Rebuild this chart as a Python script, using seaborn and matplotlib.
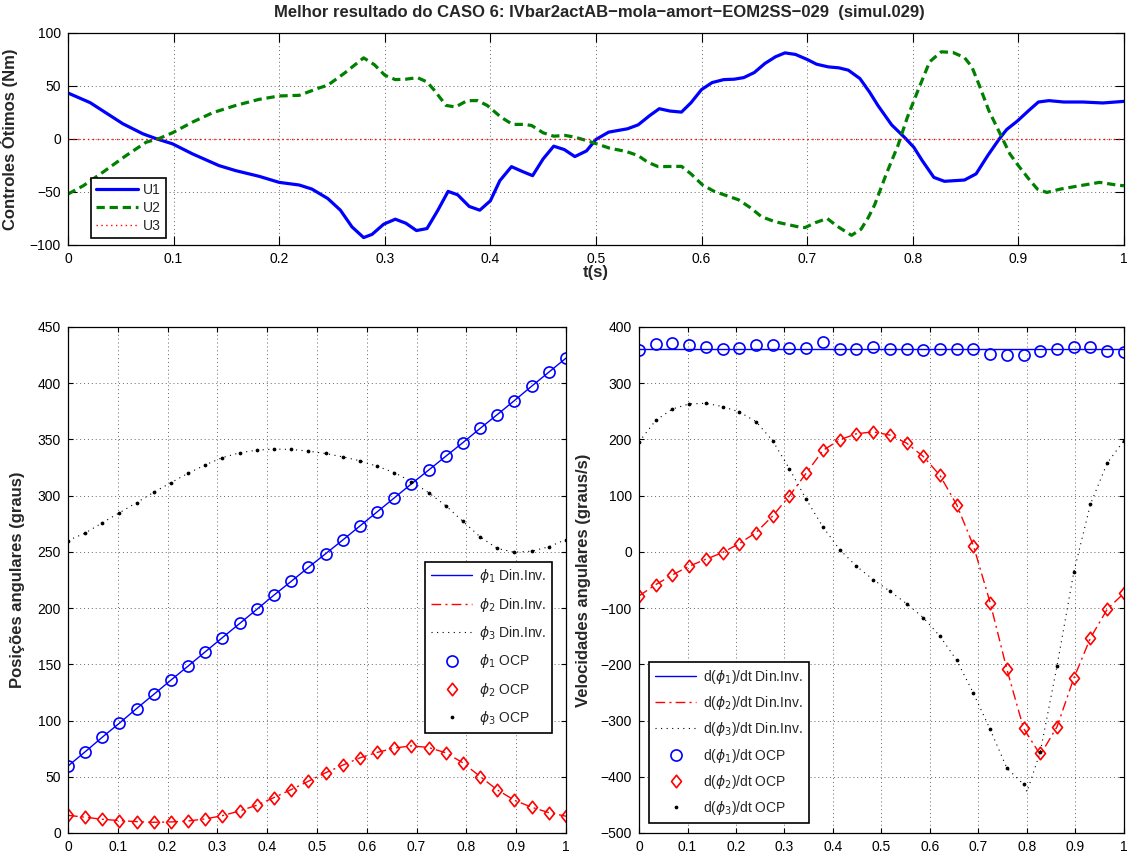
"""
plot.py - Melhor resultado do CASO 6 (simul.029): controles otimos,
posicoes angulares e velocidades angulares.
"""
import matplotlib
matplotlib.use("Agg")  # no display
import matplotlib.pyplot as plt
import seaborn as sns
from matplotlib.path import Path
from matplotlib.ticker import FixedLocator, FuncFormatter


# ---------------------------------------------------------------------------
# Data
# ---------------------------------------------------------------------------

# Optimal controls (Nm)
T_U1 = [0.0, 0.021, 0.052, 0.071, 0.084, 0.099, 0.118, 0.143, 0.159, 0.181, 0.2,
        0.219, 0.231, 0.246, 0.258, 0.269, 0.28, 0.288, 0.299, 0.31, 0.32, 0.33,
        0.34, 0.35, 0.36, 0.369, 0.38, 0.39, 0.4, 0.409, 0.42, 0.43, 0.44, 0.45,
        0.46, 0.47, 0.48, 0.491, 0.5, 0.512, 0.53, 0.54, 0.551, 0.56, 0.57, 0.581,
        0.59, 0.6, 0.61, 0.621, 0.631, 0.64, 0.65, 0.66, 0.67, 0.679, 0.689, 0.7,
        0.709, 0.72, 0.73, 0.739, 0.75, 0.759, 0.767, 0.78, 0.792, 0.801, 0.809,
        0.82, 0.83, 0.849, 0.86, 0.871, 0.882, 0.889, 0.899, 0.91, 0.919, 0.929,
        0.943, 0.961, 0.98, 1.0]
U1 = [43.2, 34.1, 14.2, 4.7, 0.0, -4.7, -14.2, -25.2, -30.0, -35.3, -41.0,
      -43.5, -47.3, -56.2, -67.2, -83.0, -93.0, -90.0, -80.4, -75.7, -79.5, -86.4,
      -84.5, -67.8, -49.5, -52.7, -63.7, -67.2, -58.4, -39.4, -26.2, -30.6, -34.7,
      -18.9, -6.9, -10.1, -16.7, -11.4, -0.6, 6.3, 9.5, 13.2, 22.0, 28.4, 26.2,
      25.2, 34.0, 46.4, 53.0, 55.8, 56.2, 57.7, 62.5, 71.0, 77.3, 81.0, 79.5,
      74.8, 70.3, 67.8, 66.9, 64.7, 56.8, 44.2, 31.5, 13.2, 1.6, -7.9, -20.5,
      -36.3, -40.0, -38.8, -33.0, -15.8, 0.0, 8.8, 16.7, 26.8, 34.7, 36.0,
      34.7, 34.7, 33.8, 35.3]

T_U2 = [0.0, 0.0145, 0.033, 0.055, 0.074, 0.087, 0.099, 0.118, 0.137, 0.159, 0.181,
        0.2, 0.219, 0.238, 0.246, 0.262, 0.28, 0.29, 0.3, 0.31, 0.32, 0.331, 0.34,
        0.347, 0.358, 0.367, 0.378, 0.388, 0.397, 0.41, 0.421, 0.432, 0.439, 0.45,
        0.46, 0.471, 0.48, 0.491, 0.5006, 0.513, 0.529, 0.54, 0.549, 0.559, 0.581,
        0.59, 0.601, 0.612, 0.626, 0.635, 0.646, 0.657, 0.67, 0.692, 0.698, 0.708,
        0.719, 0.728, 0.742, 0.751, 0.758, 0.764, 0.775, 0.786, 0.795, 0.805,
        0.816, 0.827, 0.838, 0.849, 0.856, 0.863, 0.872, 0.882, 0.892, 0.9, 0.91,
        0.918, 0.927, 0.94, 0.958, 0.977, 0.993, 1.0]
U2 = [-52.0, -44.2, -31.5, -15.8, -3.2, 0.6, 5.7, 15.8, 24.6, 31.5, 37.2,
      40.4, 41.0, 48.0, 50.5, 62.0, 76.3, 70.0, 60.0, 55.8, 56.2, 57.7, 53.6,
      45.7, 31.5, 30.0, 36.0, 36.0, 31.5, 20.5, 13.6, 13.6, 12.6, 5.7,
      2.5, 3.2, 1.6, -1.6, -4.7, -8.8, -12.0, -15.8, -22.0, -26.2, -25.9,
      -33.0, -43.5, -49.5, -54.3, -57.4, -64.7, -73.5, -78.2, -83.0, -83.6, -78.9,
      -75.0, -82.0, -90.9, -85.2, -74.0, -62.0, -33.0, -6.3, 20.5, 45.7,
      72.6, 82.0, 81.4, 76.6, 67.8, 50.5, 26.8, 6.3, -14.2, -25.2, -37.9,
      -47.3, -50.5, -47.3, -44.2, -41.0, -43.5, -44.2]

T_U3 = [0.0, 1.0]
U3 = [0.0, 0.0]

# OCP sample instants (s)
T_OCP = [0.0, 0.0345, 0.069, 0.1034, 0.1379, 0.1724, 0.2069, 0.2414, 0.2759,
         0.3103, 0.3448, 0.3793, 0.4138, 0.4483, 0.4828, 0.5172, 0.5517, 0.5862,
         0.6207, 0.6552, 0.6897, 0.7241, 0.7586, 0.7931, 0.8276, 0.8621, 0.8966,
         0.931, 0.9655, 1.0]

# Angular positions (graus)
PHI1 = [59.5, 72.2, 85.2, 97.7, 110.7, 123.3, 136.0, 148.5, 161.2, 173.8,
        186.3, 198.9, 211.6, 223.8, 236.2, 248.3, 260.5, 273.0, 285.5, 298.0,
        310.5, 322.7, 335.0, 347.2, 359.8, 372.1, 384.6, 397.3, 409.8, 422.3]
PHI2 = [15.7, 14.0, 12.2, 11.0, 10.1, 9.5, 9.8, 10.7, 12.5, 15.4,
        19.6, 24.7, 31.5, 38.6, 46.0, 53.5, 60.3, 66.8, 71.6, 75.5,
        77.5, 76.0, 71.3, 62.4, 50.2, 38.3, 29.1, 22.9, 18.1, 14.9]
PHI3 = [260.1, 266.7, 275.9, 284.8, 293.8, 303.0, 311.6, 319.9, 327.4, 333.9,
        338.1, 340.5, 341.4, 341.1, 339.6, 337.5, 334.5, 331.0, 326.2, 320.5,
        312.5, 302.7, 291.1, 277.1, 263.4, 253.0, 249.7, 250.6, 254.5, 261.0]

# Angular velocities (graus/s) - OCP markers
DPHI1_OCP = [359.7, 370.4, 371.0, 368.6, 365.0, 361.5, 362.0, 368.6, 368.0, 362.7,
             362.0, 372.7, 360.3, 361.0, 363.9, 361.5, 361.5, 359.0, 361.5, 361.0,
             361.0, 352.0, 350.2, 350.8, 357.3, 361.5, 364.4, 364.4, 356.7, 356.1]
DPHI2_OCP = [-78.3, -58.2, -40.9, -25.5, -13.1, -1.2, 14.8, 34.4, 64.1, 99.7,
             140.0, 180.4, 199.4, 210.0, 213.6, 207.7, 193.5, 169.7, 135.9, 83.7,
             10.7, -90.2, -208.9, -313.9, -358.5, -311.0, -224.9, -153.1, -102.1, -73.6]
DPHI3_OCP = [195.6, 234.0, 254.2, 263.1, 264.3, 258.4, 248.9, 231.7, 197.3, 147.6,
             93.6, 44.4, 4.1, -25.5, -49.2, -70.0, -92.0, -116.9, -150.1, -192.9,
             -251.6, -315.7, -384.6, -413.6, -355.5, -202.4, -36.2, 84.9, 157.9, 198.0]

# Angular velocities (graus/s) - inverse dynamics curves
T_DIN1 = [0.0, 1.0]
DPHI1_DIN = [360.0, 360.0]
T_DIN2 = T_OCP
DPHI2_DIN = [-78.3, -58.2, -40.9, -25.5, -13.1, -1.2, 14.8, 34.4, 64.1, 99.7,
             140.0, 180.4, 199.4, 210.0, 213.6, 207.7, 193.5, 169.7, 135.9, 83.7,
             10.7, -90.2, -208.9, -313.9, -361.0, -311.0, -224.9, -153.1, -102.1, -73.6]
T_DIN3 = [0.0, 0.0345, 0.069, 0.1034, 0.1379, 0.1724, 0.2069, 0.2414, 0.2759,
          0.3103, 0.3448, 0.3793, 0.4138, 0.4483, 0.4828, 0.5172, 0.5517, 0.5862,
          0.6207, 0.6552, 0.6897, 0.7241, 0.7586, 0.7931, 0.800, 0.8276, 0.8621,
          0.8966, 0.931, 0.9655, 1.0]
DPHI3_DIN = [195.6, 234.0, 254.2, 263.1, 264.3, 258.4, 248.9, 231.7, 197.3, 147.6,
             93.6, 44.4, 4.1, -25.5, -49.2, -70.0, -92.0, -116.9, -150.1, -192.9,
             -251.6, -315.7, -384.6, -413.6, -427.0, -355.5, -202.4, -36.2, 84.9,
             157.9, 198.0]

TITLE = "Melhor resultado do CASO 6: IVbar2actAB\u2212mola\u2212amort\u2212EOM2SS\u2212029  (simul.029)"

BLUE, GREEN, RED, BLACK = "#0000FF", "#008000", "#FF0000", "#000000"

# MATLAB-like diamond (a bit taller than wide)
DIAMOND = Path([(0, 1), (0.8, 0), (0, -1), (-0.8, 0), (0, 1)],
               [Path.MOVETO, Path.LINETO, Path.LINETO, Path.LINETO,
                Path.CLOSEPOLY])


# ---------------------------------------------------------------------------
# Helpers
# ---------------------------------------------------------------------------

def _style_axes(ax, xticks, yticks, tick_len):
    """MATLAB-like box, inward ticks and dotted grid."""
    ax.xaxis.set_major_locator(FixedLocator(xticks))
    ax.yaxis.set_major_locator(FixedLocator(yticks))
    ax.xaxis.set_major_formatter(FuncFormatter(lambda v, _: f"{v:g}"))
    ax.yaxis.set_major_formatter(
        FuncFormatter(lambda v, _: f"{v:g}".replace("-", "\u2212")))
    ax.grid(True, linestyle=(0, (1, 3)), color="0.4", linewidth=0.7)
    ax.tick_params(direction="in", top=True, right=True, length=tick_len,
                   width=0.8, labelsize=10, colors="black", pad=5)
    for spine in ax.spines.values():
        spine.set_visible(True)
        spine.set_linewidth(0.9)
        spine.set_color("black")
    ax.set_xlabel("")
    ax.set_ylabel("")


def _legend(ax, **kwargs):
    leg = ax.legend(fancybox=False, edgecolor="black", framealpha=1,
                    borderaxespad=0, fontsize=10, **kwargs)
    leg.get_frame().set_linewidth(1.2)
    return leg


def _line(ax, x, y, color, label, **kws):
    sns.lineplot(x=x, y=y, ax=ax, color=color, label=label, sort=False,
                 estimator=None, **kws)


def _markers(ax, x, y, color, label, marker, size, filled=False):
    sns.lineplot(x=x, y=y, ax=ax, color=color, label=label, sort=False,
                 estimator=None, linestyle="none", marker=marker,
                 markersize=size, markeredgecolor=color,
                 markerfacecolor=color if filled else "none",
                 markeredgewidth=1.2)


# ---------------------------------------------------------------------------
# Figure
# ---------------------------------------------------------------------------

sns.set_style("ticks")
plt.rcParams["font.family"] = ["Liberation Sans", "DejaVu Sans"]

fig = plt.figure(figsize=(11.29, 8.56), dpi=100)
ax_u = fig.add_axes([0.0602, 0.7138, 0.9353, 0.2480])
ax_p = fig.add_axes([0.0602, 0.0269, 0.4411, 0.5911])
ax_v = fig.add_axes([0.5660, 0.0269, 0.4295, 0.5911])

# --- Controls ---
_line(ax_u, T_U1, U1, BLUE, "U1", linewidth=2.3)
_line(ax_u, T_U2, U2, GREEN, "U2", linewidth=2.3, dashes=(2.6, 1.5))
_line(ax_u, T_U3, U3, RED, "U3", linewidth=1.0, linestyle=(0, (1, 2.5)))
ax_u.set_xlim(0, 1)
ax_u.set_ylim(-100, 100)
_style_axes(ax_u, [i / 10 for i in range(11)], [-100, -50, 0, 50, 100], 6.5)
ax_u.set_xlabel("t(s)", fontsize=12, fontweight="bold")
ax_u.xaxis.set_label_coords(0.5, -0.092)
ax_u.set_ylabel("Controles \u00d3timos (Nm)", fontsize=12, fontweight="bold")
ax_u.yaxis.set_label_coords(-0.047, 0.5)
_legend(ax_u, loc="lower left", bbox_to_anchor=(0.022, 0.033),
        handlelength=3.0, handletextpad=0.4, labelspacing=0.3,
        borderpad=0.35)

# --- Positions ---
_line(ax_p, T_OCP, PHI1, BLUE, r"$\phi_1$ Din.Inv.", linewidth=1.0)
_line(ax_p, T_OCP, PHI2, RED, r"$\phi_2$ Din.Inv.", linewidth=1.0,
      linestyle=(0, (7, 3, 1.5, 3)))
_line(ax_p, T_OCP, PHI3, BLACK, r"$\phi_3$ Din.Inv.", linewidth=0.8,
      linestyle=(0, (1, 4)))
_markers(ax_p, T_OCP, PHI1, BLUE, r"$\phi_1$ OCP", "o", 8)
_markers(ax_p, T_OCP, PHI2, RED, r"$\phi_2$ OCP", DIAMOND, 9)
_markers(ax_p, T_OCP, PHI3, BLACK, r"$\phi_3$ OCP", ".", 3, filled=True)
ax_p.set_xlim(0, 1)
ax_p.set_ylim(0, 450)
_style_axes(ax_p, [i / 10 for i in range(11)], list(range(0, 451, 50)), 3.6)
ax_p.set_ylabel("Posi\u00e7\u00f5es angulares (graus)", fontsize=12,
                fontweight="bold")
ax_p.yaxis.set_label_coords(-0.086, 0.5)
_legend(ax_p, loc="lower right", bbox_to_anchor=(0.9725, 0.198),
        handlelength=3.0, handletextpad=0.5, labelspacing=0.75,
        borderpad=0.4)

# --- Velocities ---
_line(ax_v, T_DIN1, DPHI1_DIN, BLUE, r"d($\phi_1$)/dt Din.Inv.", linewidth=1.0)
_line(ax_v, T_DIN2, DPHI2_DIN, RED, r"d($\phi_2$)/dt Din.Inv.", linewidth=1.0,
      linestyle=(0, (7, 3, 1.5, 3)))
_line(ax_v, T_DIN3, DPHI3_DIN, BLACK, r"d($\phi_3$)/dt Din.Inv.",
      linewidth=0.8, linestyle=(0, (1, 4)))
_markers(ax_v, T_OCP, DPHI1_OCP, BLUE, r"d($\phi_1$)/dt OCP", "o", 8)
_markers(ax_v, T_OCP, DPHI2_OCP, RED, r"d($\phi_2$)/dt OCP", DIAMOND, 9)
_markers(ax_v, T_OCP, DPHI3_OCP, BLACK, r"d($\phi_3$)/dt OCP", ".", 3,
         filled=True)
ax_v.set_xlim(0, 1)
ax_v.set_ylim(-500, 400)
_style_axes(ax_v, [i / 10 for i in range(11)], list(range(-500, 401, 100)), 3.6)
ax_v.set_ylabel("Velocidades angulares (graus/s)", fontsize=12,
                fontweight="bold")
ax_v.yaxis.set_label_coords(-0.10, 0.5)
_legend(ax_v, loc="lower left", bbox_to_anchor=(0.021, 0.020),
        handlelength=3.0, handletextpad=0.5, labelspacing=0.6,
        borderpad=0.4)

fig.text(599 / 1129, 1 - 12 / 856, TITLE, ha="center", va="center",
         fontsize=12, fontweight="bold")

fig.savefig("out.png", dpi=100)
plt.close(fig)
